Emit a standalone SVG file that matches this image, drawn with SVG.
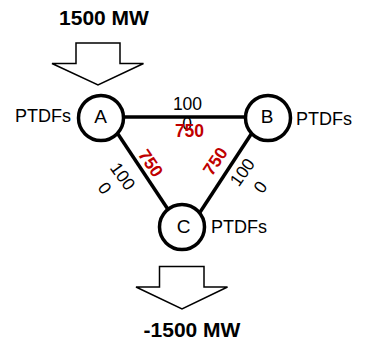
<svg xmlns="http://www.w3.org/2000/svg" width="366" height="348" viewBox="0 0 366 348">
<style>
.t{font-family:"Liberation Sans",Arial,sans-serif;fill:#000}
.big{font-size:21px;font-weight:bold}
.lbl{font-size:18px}
.nd{font-size:19px}
.num{font-size:17.5px}
.red{font-size:17.5px;font-weight:bold;fill:#c00000}
.edge{stroke:#000;stroke-width:3.5;fill:none}
.node{fill:#fff;stroke:#000;stroke-width:3.5}
.arrow{fill:#fff;stroke:#000;stroke-width:1.5;stroke-linejoin:miter}
</style>
<rect width="366" height="348" fill="#fff"/>
<g id="connectors">
<line class="edge" x1="101" y1="117" x2="268" y2="117"/>
<line class="edge" x1="106" y1="116" x2="179" y2="226"/>
<line class="edge" x1="263" y1="116" x2="191" y2="226"/>
</g>
<g id="edge-labels">
<text class="t num" x="187.5" y="110" text-anchor="middle">100</text>
<text class="t num" x="187" y="130" text-anchor="middle">0</text>
<text class="t red" x="189.5" y="137" text-anchor="middle">750</text>
<g transform="translate(151,163) rotate(56)"><text class="t red" x="0" y="6.3" text-anchor="middle">750</text></g>
<g transform="translate(123,176) rotate(54)"><text class="t num" x="0" y="6.3" text-anchor="middle">100</text></g>
<g transform="translate(105,188) rotate(54)"><text class="t num" x="0" y="6.3" text-anchor="middle">0</text></g>
<g transform="translate(215,161) rotate(-56)"><text class="t red" x="0" y="6.3" text-anchor="middle">750</text></g>
<g transform="translate(242,172) rotate(-55)"><text class="t num" x="0" y="6.3" text-anchor="middle">100</text></g>
<g transform="translate(260,187) rotate(-55)"><text class="t num" x="0" y="6.3" text-anchor="middle">0</text></g>
</g>
<g id="node-A">
<circle class="node" cx="101" cy="118" r="22.5"/>
<text class="t nd" x="100.5" y="122.5" text-anchor="middle">A</text>
<text class="t lbl" x="15" y="122">PTDFs</text>
</g>
<g id="node-B">
<circle class="node" cx="268" cy="118" r="22.5"/>
<text class="t nd" x="267" y="122.5" text-anchor="middle">B</text>
<text class="t lbl" x="296" y="125">PTDFs</text>
</g>
<g id="node-C">
<circle class="node" cx="182" cy="227" r="22.5"/>
<text class="t nd" x="183.5" y="233" text-anchor="middle">C</text>
<text class="t lbl" x="211" y="233">PTDFs</text>
</g>
<g id="injection">
<text class="t big" x="104" y="25" text-anchor="middle">1500 MW</text>
<polygon class="arrow" points="76,43 120,43 120,63.5 143.5,63.5 98,85 52,63.5 76,63.5"/>
</g>
<g id="withdrawal">
<polygon class="arrow" points="159.5,266.5 204,266.5 204,287 227.5,287 182,309 136,287 159.5,287"/>
<text class="t big" x="192" y="337" text-anchor="middle">-1500 MW</text>
</g>
</svg>
